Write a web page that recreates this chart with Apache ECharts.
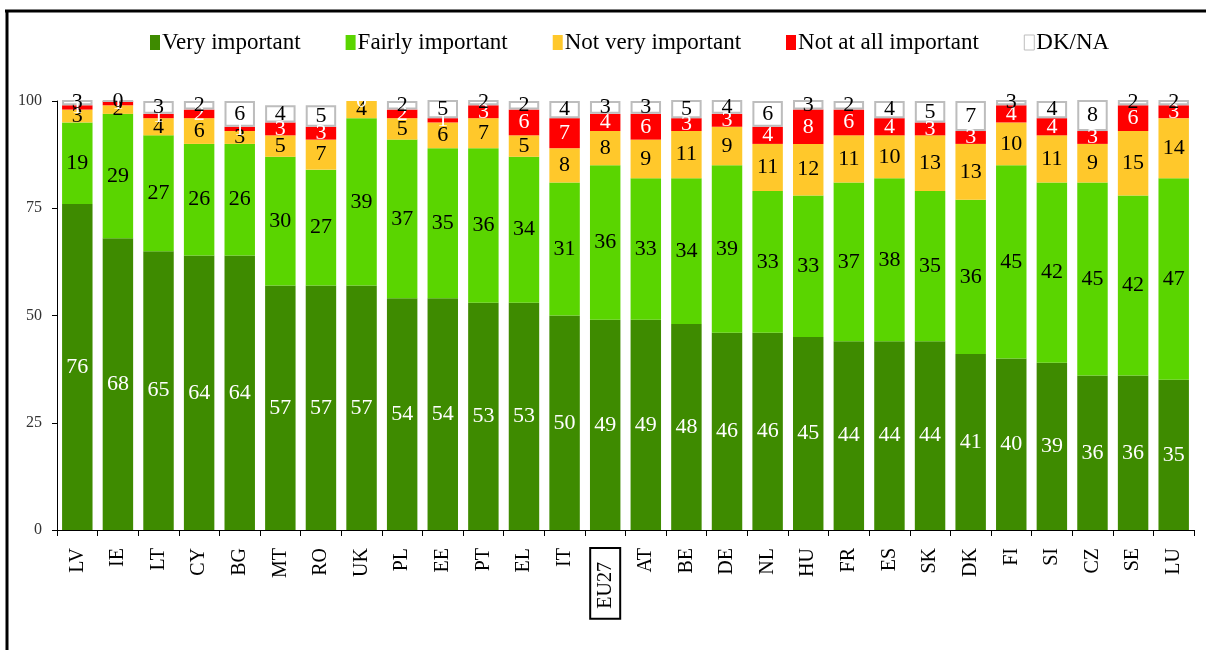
<!DOCTYPE html>
<html>
<head>
<meta charset="utf-8">
<script src="https://cdn.jsdelivr.net/npm/echarts@6/dist/echarts.min.js"></script>
<style>
  html, body { margin: 0; padding: 0; background: #fff; }
  #chart { width: 1206px; height: 650px; }
</style>
</head>
<body>
<div id="chart"></div>
<script>
// countries, sorted by "very important"
const categories = ['LV','IE','LT','CY','BG','MT','RO','UK','PL','EE','PT','EL','IT','EU27',
  'AT','BE','DE','NL','HU','FR','ES','SK','DK','FI','SI','CZ','SE','LU']

const veryImportant = [76,68,65,64,64,57,57,57,54,54,53,53,50,49,49,48,46,46,45,44,44,44,41,40,39,36,36,35]
const fairlyImportant = [19,29,27,26,26,30,27,39,37,35,36,34,31,36,33,34,39,33,33,37,38,35,36,45,42,45,42,47]
const notVeryImportant = [3,2,4,6,3,5,7,4,5,6,7,5,8,8,9,11,9,11,12,11,10,13,13,10,11,9,15,14]
const notAtAllImportant = [1,1,1,2,1,3,3,0,2,1,3,6,7,4,6,3,3,4,8,6,4,3,3,4,4,3,6,3]
const dkNa = [3,0,3,2,6,4,5,1,2,5,2,2,4,3,3,5,4,6,3,2,4,5,7,3,4,8,2,2]

const yTicks = [0,25,50,75,100]

const serif = '"Liberation Serif", "DejaVu Serif", serif'

const myChart = echarts.init(document.getElementById('chart'))

//one stacked series per answer
const seriesDefs = [
  { name: 'Very important', data: veryImportant, color: '#3e8b00', text: '#fff' },
  { name: 'Fairly important', data: fairlyImportant, color: '#5ad500', text: '#000' },
  { name: 'Not very important', data: notVeryImportant, color: '#ffc82b', text: '#000' },
  { name: 'Not at all important', data: notAtAllImportant, color: '#ff0000', text: '#fff' },
  { name: 'DK/NA', data: dkNa, color: '#ffffff', text: '#000', border: '#bdbdbd' }
]

const option = {
  animation: false,
  legend: {
    top: 26,
    left: 145,
    itemWidth: 10,
    itemHeight: 15,
    itemGap: 45,
    textStyle: { fontFamily: serif, fontSize: 23, color: '#000', padding: [0, 0, 0, -3] },
    data: seriesDefs.map(s => ({
      name: s.name,
      icon: 'rect',
      itemStyle: s.border ? { color: '#fff', borderColor: '#bdbdbd', borderWidth: 1 } : { color: s.color }
    }))
  },
  grid: { left: 57, right: 12, top: 101, bottom: 120 },
  xAxis: {
    type: 'category',
    data: categories,
    axisLine: { lineStyle: { color: '#000', width: 1 } },
    axisTick: { show: true, length: 6, lineStyle: { color: '#000' } },
    axisLabel: {
      rotate: 90,
      margin: 18,
      fontFamily: serif,
      fontSize: 20,
      color: '#000',
      formatter: v => v === 'EU27' ? '{box|' + v + '}' : v,
      rich: {
        box: {
          fontFamily: serif,
          fontSize: 20,
          color: '#000',
          borderColor: '#000',
          borderWidth: 2,
          padding: [6, 14, 4, 10]
        }
      }
    }
  },
  yAxis: {
    type: 'value',
    min: yTicks[0],
    max: yTicks[yTicks.length - 1],
    interval: 25,
    axisLine: { show: true, lineStyle: { color: '#000' } },
    axisTick: { show: true, length: 5, lineStyle: { color: '#000' } },
    splitLine: { show: false },
    axisLabel: { fontFamily: serif, fontSize: 16, color: '#333', margin: 15 }
  },
  series: seriesDefs.map(s => ({
    name: s.name,
    type: 'bar',
    stack: 'total',
    barCategoryGap: '25%',
    itemStyle: s.border ? { color: s.color, borderColor: s.border, borderWidth: 2 } : { color: s.color },
    label: {
      show: true,
      position: 'inside',
      fontFamily: serif,
      fontSize: 22,
      color: s.text
    },
    data: s.data
  })),
  //frame round the figure
  graphic: [
    { type: 'line', shape: { x1: 5, y1: 11, x2: 1206, y2: 11 }, style: { stroke: '#000', lineWidth: 3 } },
    { type: 'line', shape: { x1: 7, y1: 10, x2: 7, y2: 650 }, style: { stroke: '#000', lineWidth: 3 } }
  ]
}
myChart.setOption(option)
</script>
</body>
</html>
